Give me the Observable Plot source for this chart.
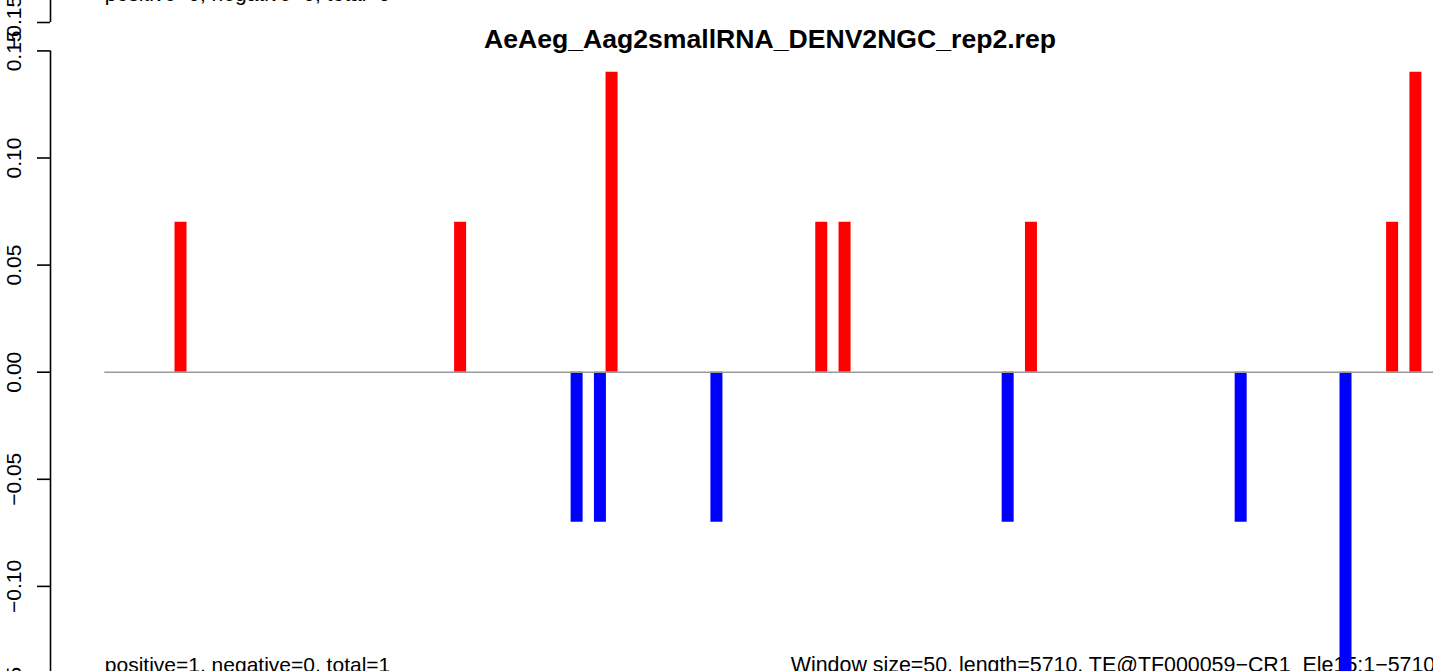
<!DOCTYPE html>
<html><head><meta charset="utf-8">
<script src="https://cdn.jsdelivr.net/npm/d3@7"></script>
<script src="https://cdn.jsdelivr.net/npm/@observablehq/plot@0.6"></script>
<style>
html,body{margin:0;padding:0;background:#fff;overflow:hidden}
#chart svg{display:block;overflow:hidden}
</style>
</head><body><div id="chart"></div>
<script>
// ---- data ----
const titleText = "AeAeg_Aag2smallRNA_DENV2NGC_rep2.rep";
const seqLength = 5710;
const windowSize = 50;
const teName = "TE@TF000059\u2212CR1_Ele15";
// window centres (bp) and normalised counts
const posCenters = [325, 1525, 2175, 3075, 3175, 3975, 5525, 5625];
const posValues  = [0.07, 0.07, 0.14, 0.07, 0.07, 0.07, 0.07, 0.14];
const negCenters = [2025, 2125, 2625, 3875, 4875, 5325];
const negValues  = [-0.07, -0.07, -0.07, -0.07, -0.07, -0.14];
const yTicks = [-0.15, -0.10, -0.05, 0, 0.05, 0.10, 0.15];
const prevTicks = [-0.15];
const captionLeft = "positive=1, negative=0, total=1";
const captionRight = `Window size=${windowSize}, length=${seqLength}, ${teName}:1\u2212${seqLength}`;
const prevCaption = "positive=0, negative=0, total=0";

// ---- layout ----
const W = 1433, H = 671;
const panelStep = 671;             // stacked panels in the original figure
const xDomain = [-233, 5702.6];
const yDomain = [-0.13973, 0.17353];
const FONT = "'Liberation Sans', Arial, Helvetica, sans-serif";
const fmt = d => d3.format(".2f")(d);

const pos = posCenters.map((c, i) => ({center: c, value: posValues[i]}));
const neg = negCenters.map((c, i) => ({center: c, value: negValues[i]}));
const axisSpan = [{y1: yTicks[0], y2: yTicks[yTicks.length - 1]}];

const chart = Plot.plot({
  width: W, height: H,
  marginLeft: 50, marginRight: 0, marginTop: 0, marginBottom: 0,
  style: {fontFamily: FONT, fontSize: "21px", background: "white", color: "black"},
  x: {domain: xDomain, axis: null},
  y: {domain: yDomain, axis: null},
  marks: [
    // captions (current and previous panel)
    Plot.text([captionLeft], {x: 0, text: d => d, frameAnchor: "bottom", textAnchor: "start", lineAnchor: "bottom", dy: 0.6, fontSize: 21, fill: "black"}),
    Plot.text([captionRight], {x: seqLength, text: d => d, frameAnchor: "bottom", textAnchor: "end", lineAnchor: "bottom", dy: 0.6, fontSize: 21.4, fill: "black"}),
    Plot.text([prevCaption], {x: 0, text: d => d, frameAnchor: "bottom", textAnchor: "start", lineAnchor: "bottom", dy: 0.6 - panelStep, fontSize: 21, fill: "black"}),
    // title
    Plot.text([titleText], {x: seqLength / 2, text: d => d, frameAnchor: "top", lineAnchor: "bottom", dy: 47, fontSize: 26.6, fontWeight: "bold", fill: "black"}),
    // bars
    Plot.ruleX(pos, {x: "center", y1: 0, y2: "value", stroke: "#ff0000", strokeWidth: 12}),
    Plot.ruleX(neg, {x: "center", y1: 0, y2: "value", stroke: "#0000ff", strokeWidth: 12}),
    // zero line
    Plot.ruleY([0], {x1: 0, x2: seqLength, stroke: "#999999", strokeWidth: 1.6}),
    // y axis (current panel)
    Plot.ruleX(axisSpan, {x: xDomain[0], y1: "y1", y2: "y2", stroke: "black", strokeWidth: 1.6}),
    Plot.ruleY(yTicks, {y: d => d, x1: xDomain[0], x2: xDomain[0], insetLeft: -13, stroke: "black", strokeWidth: 1.6}),
    Plot.text(yTicks, {y: d => d, text: fmt, frameAnchor: "left", dx: -29.5, rotate: -90, textAnchor: "middle", lineAnchor: "bottom", fontSize: 21, fill: "black"}),
    // y axis remnant of the previous panel
    Plot.ruleX(axisSpan, {x: xDomain[0], y1: "y1", y2: "y2", dy: -panelStep, stroke: "black", strokeWidth: 1.6}),
    Plot.ruleY(prevTicks, {y: d => d, x1: xDomain[0], x2: xDomain[0], insetLeft: -13, dy: -panelStep, stroke: "black", strokeWidth: 1.6}),
    Plot.text(prevTicks, {y: d => d, text: fmt, frameAnchor: "left", dx: -29.5, dy: -panelStep, rotate: -90, textAnchor: "middle", lineAnchor: "bottom", fontSize: 21, fill: "black"})
  ]
});
document.getElementById("chart").appendChild(chart);
</script>
</body></html>
